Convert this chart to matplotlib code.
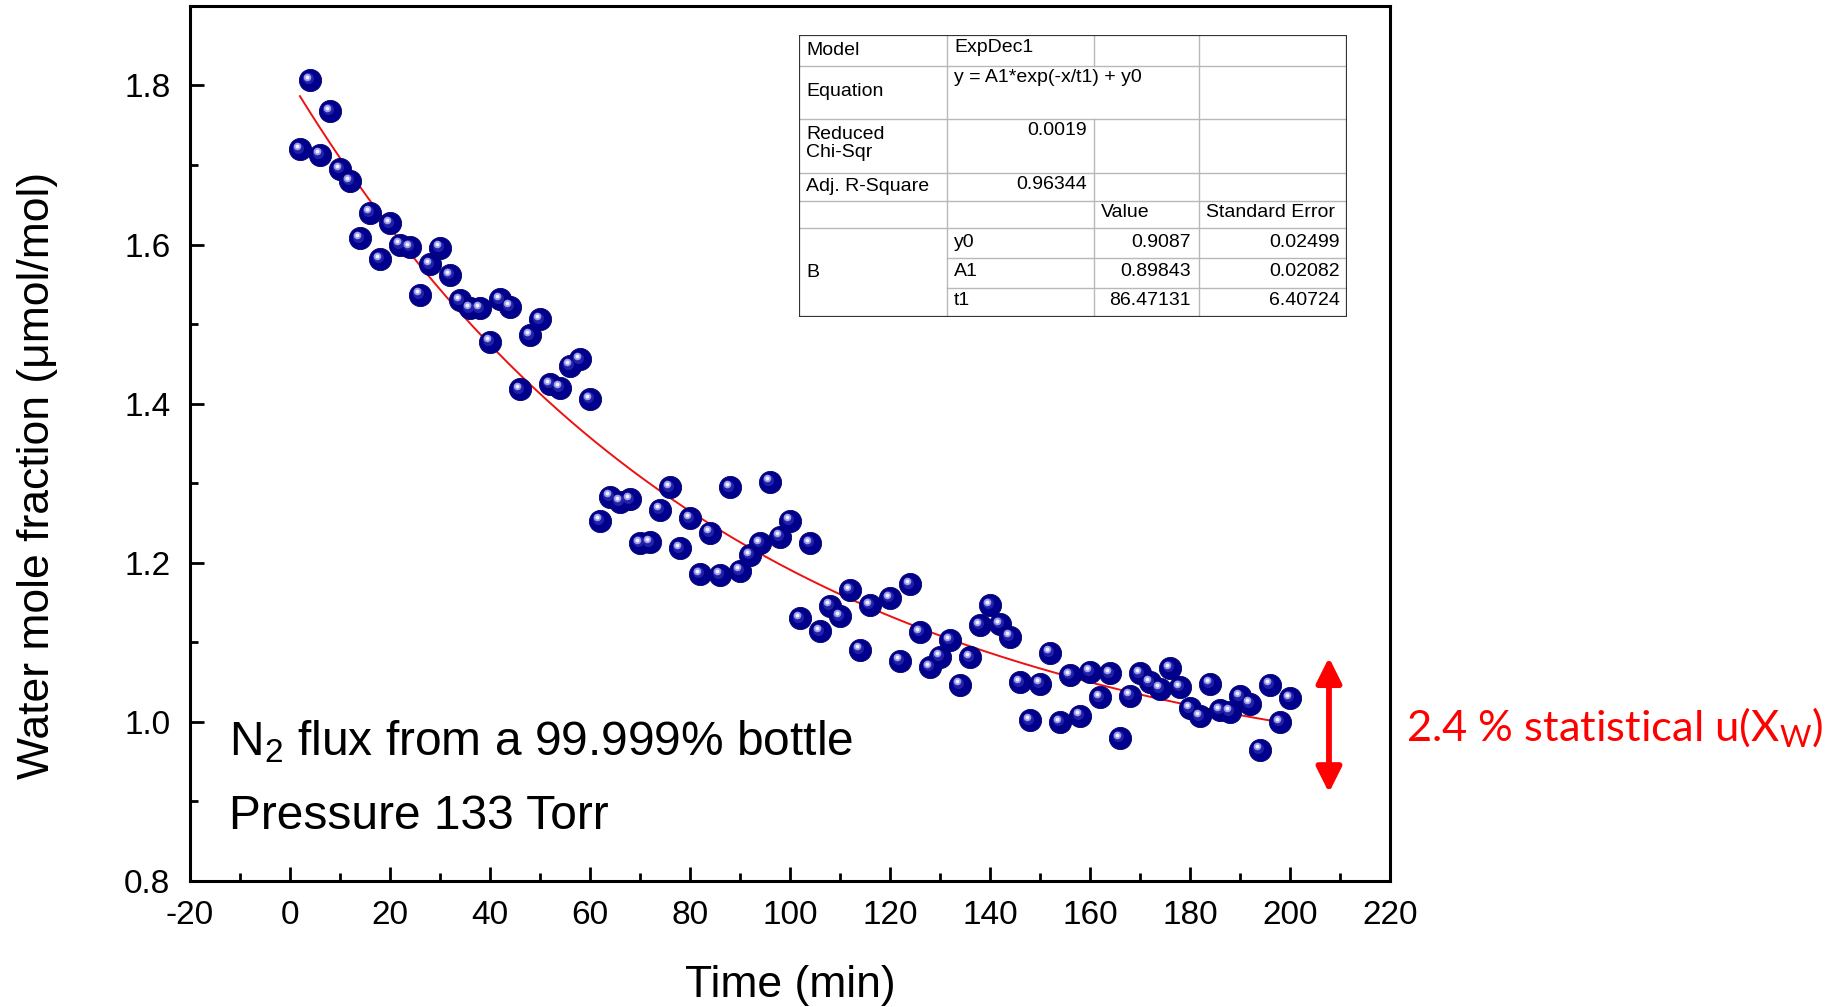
import numpy as np
import matplotlib
matplotlib.use("Agg")
import matplotlib.pyplot as plt
from matplotlib.transforms import offset_copy
from matplotlib.ticker import MultipleLocator

plt.rcParams['font.family'] = ['Liberation Sans', 'DejaVu Sans']
plt.rcParams['mathtext.fontset'] = 'custom'
plt.rcParams['mathtext.rm'] = 'Liberation Sans'
plt.rcParams['axes.unicode_minus'] = False

# measured water mole fraction during the N2 purge
time_min = [2, 4, 6, 8, 10, 12, 14, 16, 18, 20, 22, 24, 26, 28, 30, 32, 34, 36, 38, 40,
            42, 44, 46, 48, 50, 52, 54, 56, 58, 60, 62, 64, 66, 68, 70, 72, 74, 76, 78, 80,
            82, 84, 86, 88, 90, 92, 94, 96, 98, 100, 102, 104, 106, 108, 110, 112, 114, 116,
            120, 122, 124, 126, 128, 130, 132, 134, 136, 138, 140, 142, 144, 146, 148, 150,
            152, 154, 156, 158, 160, 162, 164, 166, 168, 170, 172, 174, 176, 178, 180, 182,
            184, 186, 188, 190, 192, 194, 196, 198, 200]
x_water = [1.720, 1.807, 1.713, 1.768, 1.695, 1.680, 1.608, 1.640, 1.582, 1.627,
           1.600, 1.597, 1.537, 1.575, 1.596, 1.562, 1.530, 1.520, 1.520, 1.478,
           1.531, 1.522, 1.418, 1.486, 1.506, 1.425, 1.420, 1.448, 1.456, 1.406,
           1.253, 1.283, 1.277, 1.280, 1.225, 1.226, 1.267, 1.295, 1.218, 1.256,
           1.186, 1.238, 1.185, 1.295, 1.190, 1.210, 1.225, 1.302, 1.233, 1.253,
           1.130, 1.225, 1.114, 1.146, 1.133, 1.166, 1.091, 1.147,
           1.156, 1.077, 1.173, 1.113, 1.069, 1.082, 1.103, 1.047, 1.081, 1.122,
           1.147, 1.123, 1.107, 1.050, 1.002, 1.048, 1.087, 1.000, 1.059, 1.008,
           1.063, 1.031, 1.061, 0.980, 1.033, 1.061, 1.050, 1.042, 1.068, 1.044,
           1.017, 1.007, 1.048, 1.015, 1.013, 1.032, 1.023, 0.965, 1.047, 1.000, 1.030]

# ExpDec1 fit results
fit_y0, fit_A1, fit_t1 = 0.9087, 0.89843, 86.47131

table_rows = [
    ("Model", "ExpDec1"),
    ("Equation", "y = A1*exp(-x/t1) + y0"),
    ("Reduced\nChi-Sqr", "0.0019"),
    ("Adj. R-Square", "0.96344"),
]
param_names = ["y0", "A1", "t1"]
param_values = ["0.9087", "0.89843", "86.47131"]
param_errors = ["0.02499", "0.02082", "6.40724"]

fig = plt.figure(figsize=(18.42, 10.07), dpi=100)
ax = fig.add_axes([0.1031, 0.1251, 0.6515, 0.869])

# fitted curve
tt = np.linspace(time_min[0], time_min[-1], 400)
ax.plot(tt, fit_y0 + fit_A1 * np.exp(-tt / fit_t1), color='#ee1111', lw=1.4, zorder=2)

# shaded balls: dark body + lighter core + highlight
ax.plot(time_min, x_water, 'o', ms=16, color='#00008c', mec='#000070', mew=0.6, zorder=3)
mid = offset_copy(ax.transData, fig=fig, x=-1.6, y=1.6, units='dots')
ax.plot(time_min, x_water, 'o', ms=8, color='#2a2ab0', mew=0, alpha=0.8,
        transform=mid, zorder=4)
hi = offset_copy(ax.transData, fig=fig, x=-3.3, y=3.3, units='dots')
ax.plot(time_min, x_water, 'o', ms=5.5, color='#9a9ae8', mew=0, transform=hi, zorder=5)
ax.plot(time_min, x_water, 'o', ms=2.8, color='#f2f2ff', mew=0, transform=hi, zorder=6)

ax.set_xlim(-20, 220)
ax.set_ylim(0.8, 1.9)
ax.xaxis.set_major_locator(MultipleLocator(20))
ax.xaxis.set_minor_locator(MultipleLocator(10))
ax.yaxis.set_major_locator(MultipleLocator(0.2))
ax.yaxis.set_minor_locator(MultipleLocator(0.1))
ax.yaxis.set_major_formatter(matplotlib.ticker.FormatStrFormatter('%.1f'))
ax.tick_params(which='both', direction='in', width=2, top=False, right=False)
ax.tick_params(which='major', length=10, labelsize=24)
ax.tick_params(axis='x', which='major', pad=14)
ax.tick_params(axis='y', which='major', pad=14)
ax.tick_params(which='minor', length=5.5)
for sp in ax.spines.values():
    sp.set_linewidth(2.2)

ax.set_xlabel('Time (min)', fontsize=32, labelpad=24)
ax.set_ylabel('Water mole fraction (\u03bcmol/mol)', fontsize=32)
ax.yaxis.set_label_coords(-0.110, 0.463)

ax.text(-12.2, 0.958, r'N$_\mathregular{2}$ flux from a 99.999% bottle', fontsize=34.5,
        va='baseline', ha='left')
ax.text(-12.2, 0.865, 'Pressure 133 Torr', fontsize=34.5, va='baseline', ha='left')

# statistical uncertainty band
ax.annotate('', xy=(207.8, 1.081), xytext=(207.8, 0.911),
            arrowprops=dict(arrowstyle='<|-|>', color='red', lw=4.2, mutation_scale=38,
                            shrinkA=0, shrinkB=0),
            annotation_clip=False)
fig.text(0.7633, 0.277, r'2.4 % statistical u(X$_\mathregular{W}$)', color='red',
         fontsize=31.3, family=['Lato', 'DejaVu Sans'], va='center', ha='left')

# fit summary table
tab = fig.add_axes([799 / 1842, 1 - 317 / 1007, 548 / 1842, 282 / 1007])
tab.set_xlim(0, 548)
tab.set_ylim(282, 0)
tab.axis('off')
rows = [0, 31, 84, 138, 166, 193, 223, 253, 282]
grid_c = '#b8b8b8'
# horizontal lines
for r in rows[1:6]:
    tab.plot([0, 548], [r, r], color=grid_c, lw=1)
for r in rows[6:8]:
    tab.plot([148, 548], [r, r], color=grid_c, lw=1)
# vertical lines
tab.plot([148, 148], [0, 282], color=grid_c, lw=1)
tab.plot([295, 295], [0, 31], color=grid_c, lw=1)
tab.plot([295, 295], [84, 282], color=grid_c, lw=1)
tab.plot([400, 400], [0, 282], color=grid_c, lw=1)
tab.plot([0, 548, 548, 0, 0], [0, 0, 282, 282, 0], color='#333333', lw=1.6)

fs = 14
label_y = [15.5, 56.6, 108.5, 151.8]
value_y = [12, 42.5, 95, 149]
for (lab, val), ly, vy in zip(table_rows, label_y, value_y):
    tab.text(7, ly, lab, fontsize=fs, va='center', ha='left', linespacing=1.15)
    if lab in ("Model", "Equation"):
        tab.text(155, vy, val, fontsize=fs, va='center', ha='left')
    else:
        tab.text(288, vy, val, fontsize=fs, va='center', ha='right')
tab.text(302, 177.6, 'Value', fontsize=fs, va='center', ha='left')
tab.text(407, 177.6, 'Standard Error', fontsize=fs, va='center', ha='left')
tab.text(7, 237.5, 'B', fontsize=fs, va='center', ha='left')
for name, v, e, y in zip(param_names, param_values, param_errors, [207, 236, 265.7]):
    tab.text(155, y, name, fontsize=fs, va='center', ha='left')
    tab.text(392, y, v, fontsize=fs, va='center', ha='right')
    tab.text(541, y, e, fontsize=fs, va='center', ha='right')

fig.savefig('out.png', dpi=100)
